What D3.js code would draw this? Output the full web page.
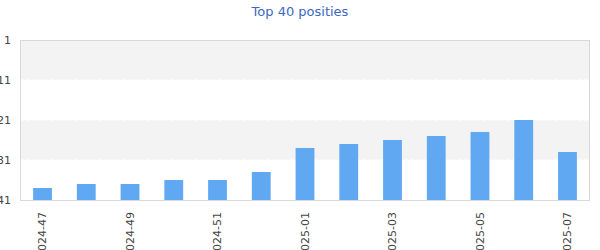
<!DOCTYPE html>
<html>
<head>
<meta charset="utf-8">
<script src="https://cdn.jsdelivr.net/npm/d3@7"></script>
<style>
  body { margin: 0; background: #fff; }
  svg { display: block; font-family: "DejaVu Sans", sans-serif; }
</style>
</head>
<body>
<svg id="chart" width="600" height="250"></svg>
<script>
const weeks = ["2024-47", "2024-48", "2024-49", "2024-50", "2024-51", "2024-52",
  "2025-01", "2025-02", "2025-03", "2025-04", "2025-05", "2025-06", "2025-07"];
const positions = [38, 37, 37, 36, 36, 34, 28, 27, 26, 25, 24, 21, 29];
const yTicks = [1, 11, 21, 31, 41];
const shownLabels = ["2024-47", "2024-49", "2024-51", "2025-01", "2025-03", "2025-05", "2025-07"];

const width = 600;
const height = 250;
const margin = { top: 40, right: 10, bottom: 50, left: 20 };

const svg = d3.select("#chart");

const x = d3.scaleBand()
  .domain(weeks)
  .range([margin.left, width - margin.right])
  .paddingInner(0.57)
  .paddingOuter(0.3);

const y = d3.scaleLinear()
  .domain([1, 41])
  .range([margin.top, height - margin.bottom]);

// Banden
const bands = d3.pairs(yTicks).filter((d, i) => i % 2 === 0);
svg.append("g")
  .selectAll("rect")
  .data(bands)
  .join("rect")
  .attr("x", margin.left)
  .attr("width", width - margin.left - margin.right)
  .attr("y", d => y(d[0]))
  .attr("height", d => y(d[1]) - y(d[0]))
  .attr("fill", "#f3f3f3");

// Rasterlijnen
svg.append("g")
  .selectAll("line")
  .data(yTicks.slice(1, -1))
  .join("line")
  .attr("x1", margin.left)
  .attr("x2", width - margin.right)
  .attr("y1", d => y(d))
  .attr("y2", d => y(d))
  .attr("stroke", "#fff")
  .attr("stroke-dasharray", "4,2");

// Balken
svg.append("g")
  .selectAll("rect")
  .data(weeks)
  .join("rect")
  .attr("x", d => x(d))
  .attr("width", x.bandwidth())
  .attr("y", (d, i) => y(positions[i]))
  .attr("height", (d, i) => y(41) - y(positions[i]))
  .attr("fill", "#60a8f2");

// Kader
svg.append("rect")
  .attr("x", margin.left + 0.5)
  .attr("y", margin.top + 0.5)
  .attr("width", width - margin.left - margin.right - 1)
  .attr("height", height - margin.top - margin.bottom)
  .attr("fill", "none")
  .attr("stroke", "#d9d9d9");

// Y-as
const yAxis = svg.append("g")
  .attr("transform", `translate(${margin.left},0)`)
  .call(d3.axisLeft(y).tickValues(yTicks).tickSize(0).tickPadding(9));
yAxis.select(".domain").remove();
yAxis.selectAll("text")
  .attr("fill", "#444")
  .attr("font-size", 11)
  .attr("font-family", "DejaVu Sans, sans-serif");

// X-as
const xAxis = svg.append("g")
  .attr("transform", `translate(0,${height - margin.bottom})`)
  .call(d3.axisBottom(x).tickValues(shownLabels).tickSize(0).tickPadding(0));
xAxis.select(".domain").remove();
xAxis.selectAll("text")
  .attr("fill", "#444")
  .attr("font-size", 11)
  .attr("font-family", "DejaVu Sans, sans-serif")
  .attr("text-anchor", "end")
  .attr("dy", "0.35em")
  .attr("transform", "translate(0,12) rotate(-90)")
  .attr("x", 0)
  .attr("y", 0);

// Titel
svg.append("text")
  .attr("x", width / 2)
  .attr("y", 16)
  .attr("text-anchor", "middle")
  .attr("fill", "#3d68c0")
  .attr("font-size", 13)
  .text("Top 40 posities");
</script>
</body>
</html>
